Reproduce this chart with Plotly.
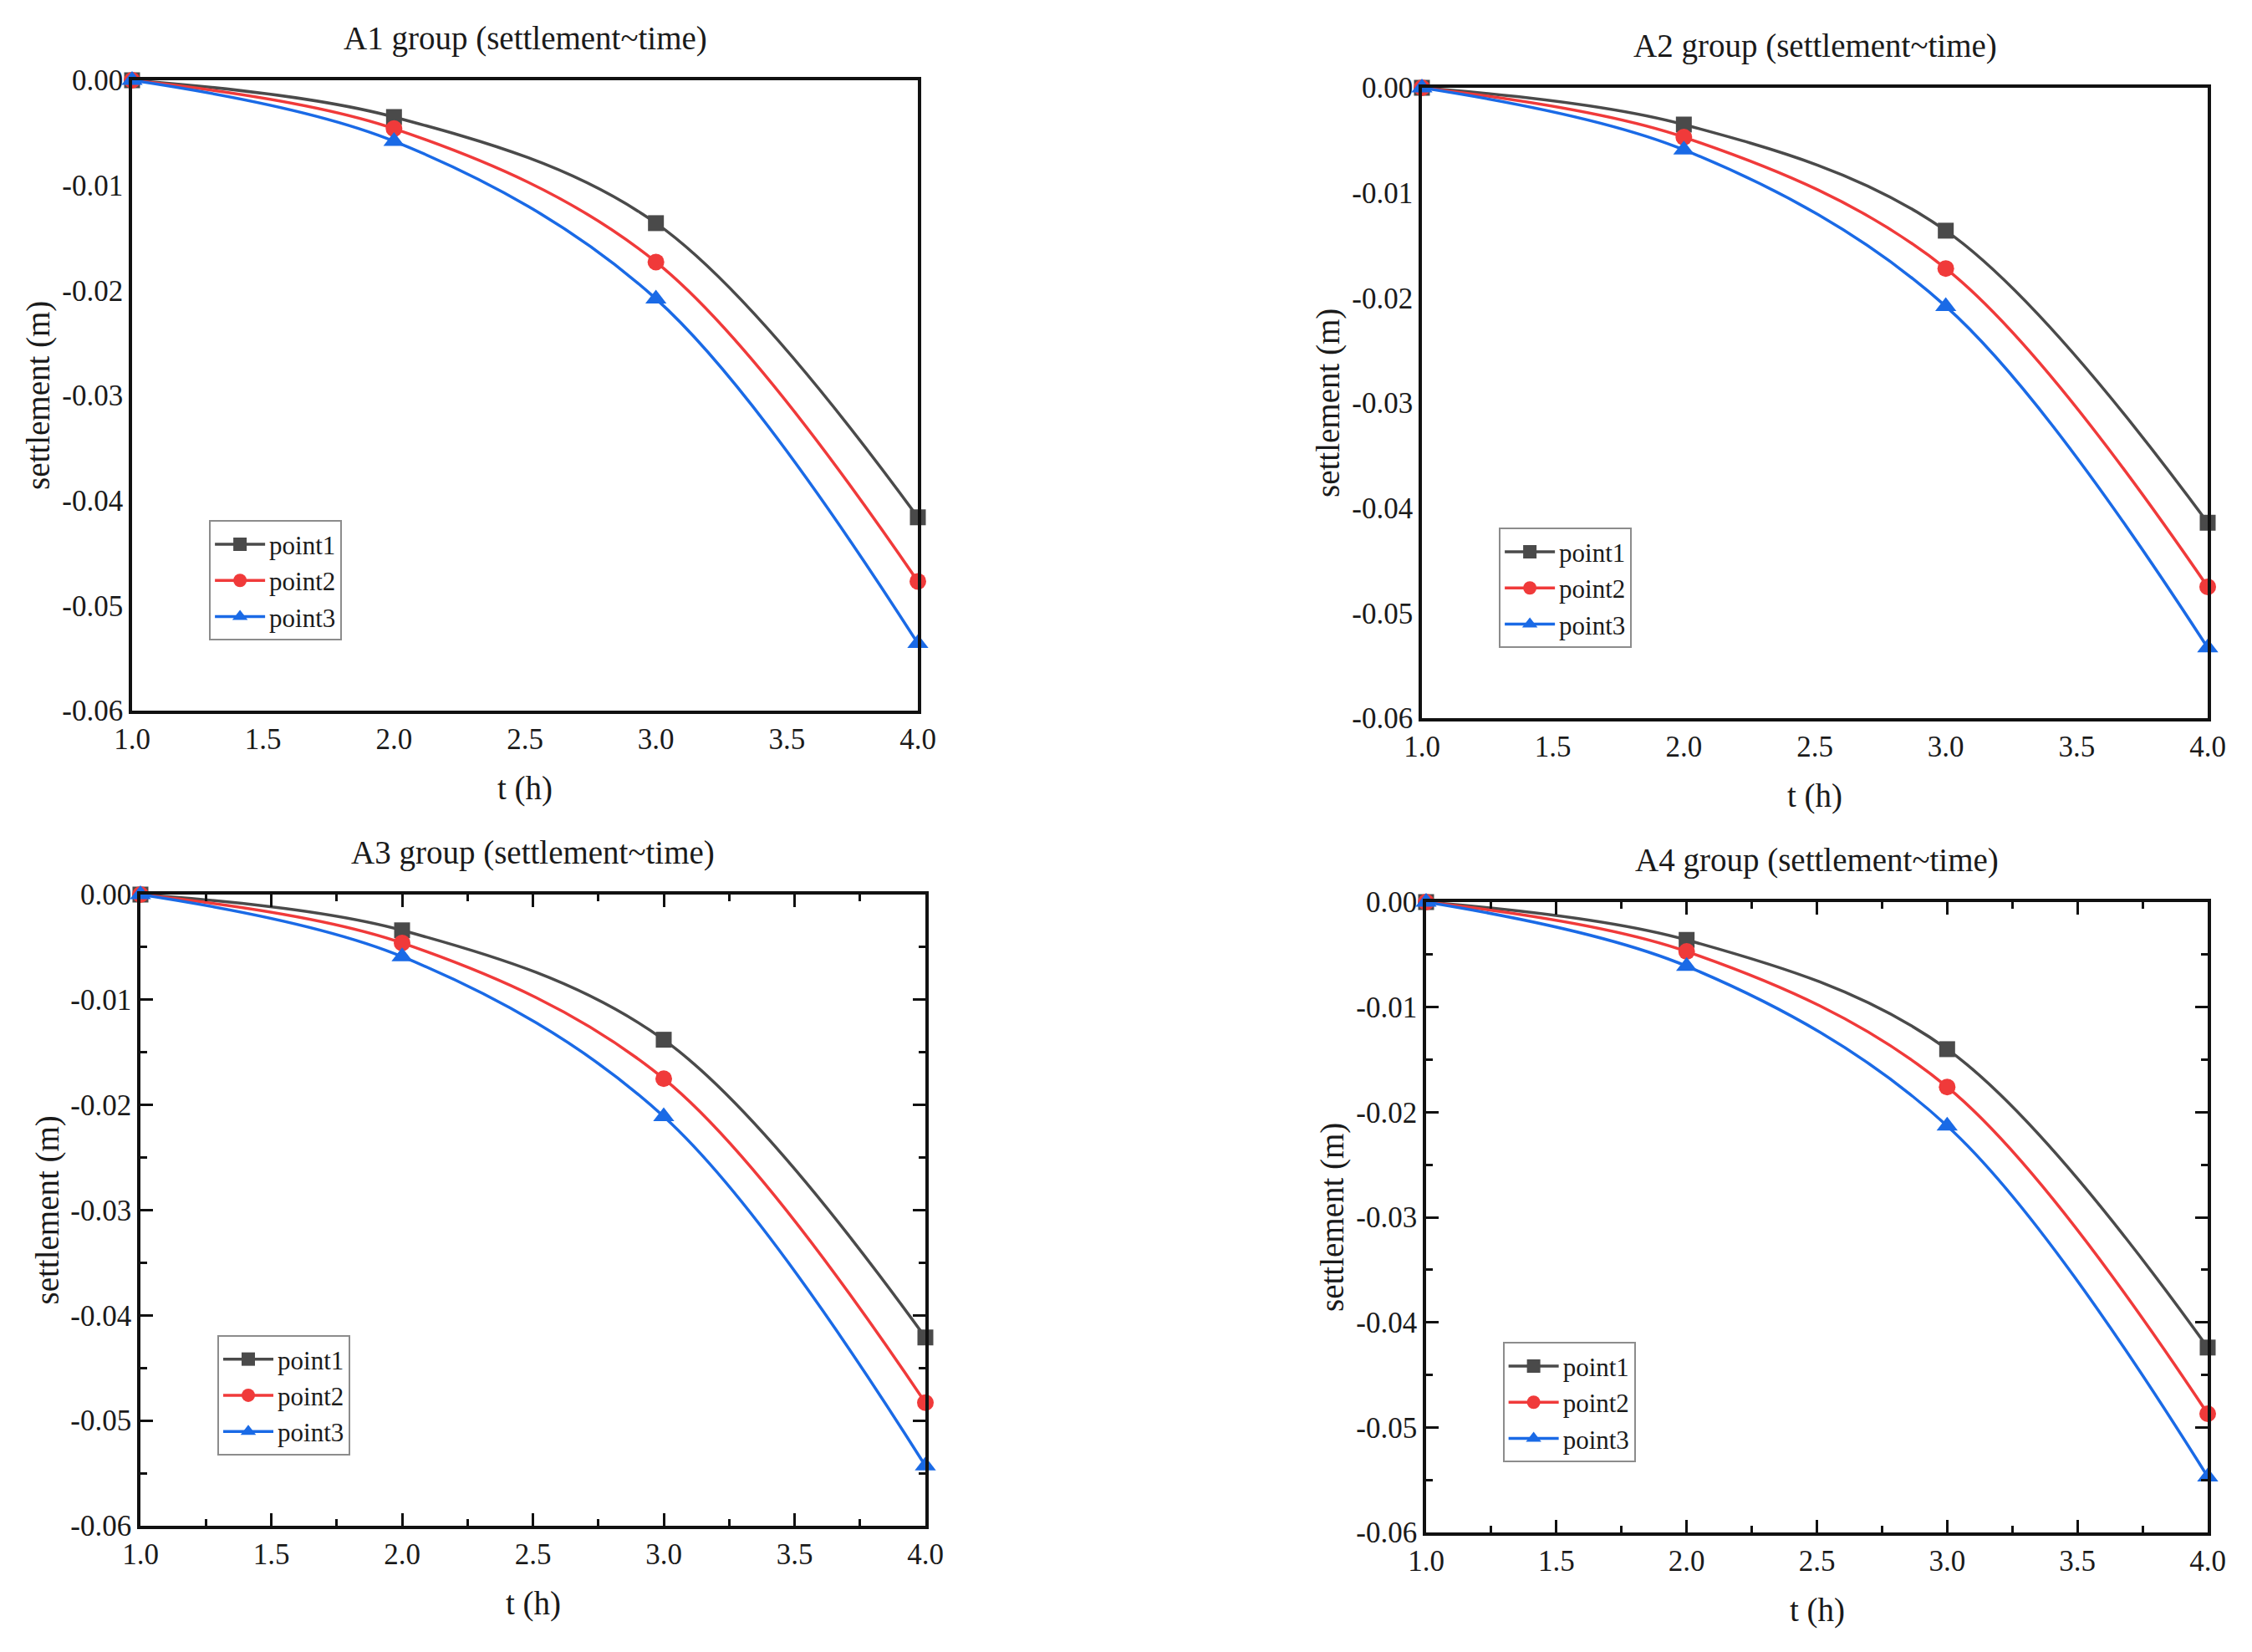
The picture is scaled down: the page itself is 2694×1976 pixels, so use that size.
import plotly.graph_objects as go

# ---- data ----
T = [1.0, 2.0, 3.0, 4.0]

A1_P1 = [0.0, -0.0035, -0.0136, -0.0416]
A1_P2 = [0.0, -0.0046, -0.0173, -0.0477]
A1_P3 = [0.0, -0.0058, -0.0208, -0.0536]

A2_P1 = [0.0, -0.0035, -0.0136, -0.0414]
A2_P2 = [0.0, -0.0047, -0.0172, -0.0475]
A2_P3 = [0.0, -0.0059, -0.0208, -0.0533]

A3_P1 = [0.0, -0.0034, -0.0138, -0.0421]
A3_P2 = [0.0, -0.0046, -0.0175, -0.0483]
A3_P3 = [0.0, -0.0059, -0.0211, -0.0543]

A4_P1 = [0.0, -0.0036, -0.0140, -0.0424]
A4_P2 = [0.0, -0.0047, -0.0176, -0.0487]
A4_P3 = [0.0, -0.0061, -0.0213, -0.0547]

GROUPS = ["A1", "A2", "A3", "A4"]
SERIES_NAMES = ["point1", "point2", "point3"]

X_TICKS = [1.0, 1.5, 2.0, 2.5, 3.0, 3.5, 4.0]
X_TICK_TEXT = ["1.0", "1.5", "2.0", "2.5", "3.0", "3.5", "4.0"]
Y_TICKS = [0.0, -0.01, -0.02, -0.03, -0.04, -0.05, -0.06]
Y_TICK_TEXT = ["0.00", "-0.01", "-0.02", "-0.03", "-0.04", "-0.05", "-0.06"]

# ---- style ----
WIN_W, WIN_H = 2694, 1976
PAD = 8                      # default <body> margin of the html page
W, H = WIN_W - 2 * PAD, WIN_H - 2 * PAD
FONT = "Liberation Serif, Times New Roman, serif"
INK = "#1a1a1a"
AXIS = "#111111"
COLORS = ["#4a4a4a", "#f03a3a", "#1a6ae6"]
SYMBOLS = ["square", "circle", "triangle-up"]
SIZES = [19, 20, 22]

# panel plot areas in window pixels: left, right, top, bottom
PANEL_PX = [
    (158, 1098, 96, 850),
    (1701, 2641, 105, 859),
    (168, 1107, 1070, 1825),
    (1706, 2641, 1079, 1833),
]
HAS_TICKS = [False, False, True, True]


def px_domains(box):
    l, r, t, b = box
    dx = [(l - PAD) / W, (r - PAD) / W]
    dy = [(WIN_H - PAD - b) / H, (WIN_H - PAD - t) / H]
    return dx, dy


data = {
    "A1": [A1_P1, A1_P2, A1_P3],
    "A2": [A2_P1, A2_P2, A2_P3],
    "A3": [A3_P1, A3_P2, A3_P3],
    "A4": [A4_P1, A4_P2, A4_P3],
}

fig = go.Figure()
layout = dict(
    width=W, height=H,
    paper_bgcolor="white", plot_bgcolor="white",
    margin=dict(l=0, r=0, t=0, b=0),
    font=dict(family=FONT, color=INK, size=34),
    annotations=[],
)

for i, g in enumerate(GROUPS):
    n = "" if i == 0 else str(i + 1)
    xa, ya = "x" + n, "y" + n
    leg = "legend" + n
    dx, dy = px_domains(PANEL_PX[i])

    for k, name in enumerate(SERIES_NAMES):
        fig.add_trace(go.Scatter(
            x=T, y=data[g][k], name=name,
            xaxis=xa, yaxis=ya, legend=leg,
            mode="lines+markers",
            line=dict(color=COLORS[k], width=3.5, shape="spline", smoothing=1.0),
            marker=dict(symbol=SYMBOLS[k], size=SIZES[k], color=COLORS[k]),
            cliponaxis=False,
        ))

    ticks = "inside" if HAS_TICKS[i] else ""
    axis_common = dict(
        showline=True, linecolor=AXIS, linewidth=3.5,
        mirror="ticks" if HAS_TICKS[i] else True,
        showgrid=False, zeroline=False,
        ticks=ticks, ticklen=15, tickwidth=3, tickcolor=AXIS,
        tickfont=dict(family=FONT, size=35, color=INK),
        automargin=False,
    )
    xaxis = dict(axis_common, domain=dx, range=[1.0, 4.0], anchor=ya,
                 tickvals=X_TICKS, ticktext=X_TICK_TEXT)
    yaxis = dict(axis_common, domain=dy, range=[-0.06, 0.0], anchor=xa,
                 tickvals=Y_TICKS, ticktext=Y_TICK_TEXT)
    if HAS_TICKS[i]:
        xaxis["minor"] = dict(ticks="inside", ticklen=8, tickwidth=2.5,
                              tickcolor=AXIS, dtick=0.25, tick0=1.0)
        yaxis["minor"] = dict(ticks="inside", ticklen=8, tickwidth=2.5,
                              tickcolor=AXIS, dtick=0.005, tick0=0.0)
    layout["xaxis" + n] = xaxis
    layout["yaxis" + n] = yaxis

    # legend inside the lower-left of each panel
    layout[leg] = dict(
        x=dx[0] + 0.098 * (dx[1] - dx[0]),
        y=dy[1] - 0.698 * (dy[1] - dy[0]),
        xanchor="left", yanchor="top",
        bgcolor="white", bordercolor="#8c8c8c", borderwidth=2,
        font=dict(family=FONT, size=31, color=INK),
        itemwidth=60, tracegroupgap=0,
    )

    # panel title and axis titles
    layout["annotations"] += [
        dict(text=f"{g} group (settlement~time)", xref=xa + " domain", yref=ya + " domain",
             x=0.5, y=1.0, yshift=50, showarrow=False, xanchor="center", yanchor="middle",
             font=dict(family=FONT, size=39, color=INK)),
        dict(text="t (h)", xref=xa + " domain", yref=ya + " domain",
             x=0.5, y=0.0, yshift=-93, showarrow=False, xanchor="center", yanchor="middle",
             font=dict(family=FONT, size=39, color=INK)),
        dict(text="settlement (m)", xref=xa + " domain", yref=ya + " domain",
             x=0.0, y=0.5, xshift=-112, showarrow=False, xanchor="center", yanchor="middle",
             textangle=-90, font=dict(family=FONT, size=39, color=INK)),
    ]

fig.update_layout(**layout)
fig.write_html("out.html")
